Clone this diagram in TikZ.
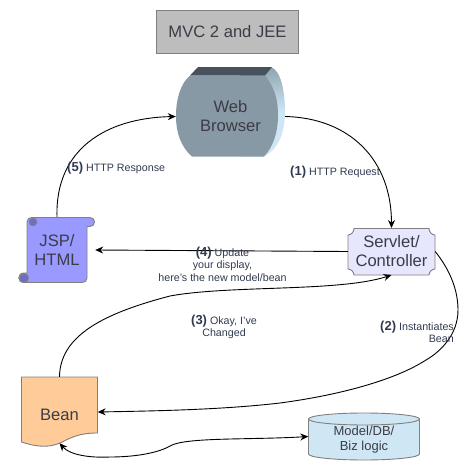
\documentclass[tikz,border=0pt]{standalone}
\usepackage{fontspec}
\setmainfont{Liberation Sans}
\usetikzlibrary{arrows.meta}
\definecolor{edgegray}{HTML}{808080}
\definecolor{txt}{HTML}{3C3C46}
\definecolor{lbl}{HTML}{303A50}
\definecolor{webtop}{HTML}{48525C}
\definecolor{webbody}{HTML}{8899A6}
\definecolor{webside}{HTML}{CFE7F5}
\definecolor{webedge}{HTML}{8FA3B0}
\definecolor{jspfill}{HTML}{9999FF}
\definecolor{jsproll}{HTML}{6E6EC8}
\definecolor{servfill}{HTML}{E6E6FF}
\definecolor{beanfill}{HTML}{FFCC99}
\definecolor{dbfill}{HTML}{CFE7F5}
\tikzset{
  shapeline/.style={draw=edgegray,line width=0.9pt},
  big/.style={font=\fontsize{16.6}{19}\selectfont,text=txt,align=center,inner sep=0pt,minimum width=#1},
  lab/.style={font=\fontsize{10.7}{12.6}\selectfont,text=lbl,align=center,inner sep=0pt},
  conn/.style={draw=black,line width=0.9pt,-{Stealth[length=8pt,width=7pt]}},
  connb/.style={draw=black,line width=0.9pt,{Stealth[length=8pt,width=7pt]}-{Stealth[length=8pt,width=7pt]}},
}
\newcommand{\stepno}[1]{{\fontsize{13}{13}\selectfont\bfseries (#1)}}
\begin{document}
\begin{tikzpicture}[x=1pt,y=-1pt]
\useasboundingbox (0,0) rectangle (461,466);
% title
\node[shapeline,fill=black!26,minimum width=142pt,minimum height=43pt,inner sep=0pt,font=\fontsize{16.6}{19}\selectfont,text=txt] (title) at (227.5,31.5) {MVC 2 and JEE};
% web browser
\path[top color=webedge,bottom color=webside,middle color=webside]
  (270,67) .. controls (281,69) and (285,92) .. (285,112) .. controls (285,135) and (277,150) .. (264,156.5) -- (240,156.5) -- (240,67) -- cycle;
\fill[webtop] (198,67) -- (272,67) -- (265,75.5) -- (190,75.5) -- cycle;
\fill[webbody] (190,75.5) -- (265,75.5) .. controls (275,88) and (278,100) .. (278,115)
  .. controls (278,133) and (273,147) .. (264,156.5) -- (192,156.5) .. controls (181,147) and (176,133) .. (176,116) .. controls (176,100) and (180,84) .. (190,75.5) -- cycle;
\node[big=109pt,minimum height=81pt] (web) at (230.5,116.5) {Web\\Browser};
% JSP scroll
\path[shapeline,fill=jspfill]
  (32,217.5) -- (90,217.5) .. controls (96,217.5) and (96,226.5) .. (90,226.5) -- (87,226.5) -- (87,278)
  .. controls (87,281) and (85,282.5) .. (82,282.5) -- (24,282.5) .. controls (17,282.5) and (17,273) .. (24,273) -- (27,273) -- (27,222)
  .. controls (27,219) and (29,217.5) .. (32,217.5) -- cycle;
\path[shapeline,fill=jsproll] (33,222) circle[radius=3.8pt];
\path[shapeline,fill=jsproll] (24,278) circle[radius=4.5pt];
\node[big=60pt,minimum height=66pt] (jsp) at (57,250) {JSP/\\HTML};
% servlet plaque
\path[shapeline,fill=servfill]
  (354,228.5) -- (429,228.5) .. controls (429,232) and (432,235) .. (435,235) -- (435,269)
  .. controls (432,269) and (429,272) .. (429,275) -- (354,275) .. controls (354,272) and (351,269) .. (348,269) -- (348,235) .. controls (351,235) and (354,232) .. (354,228.5) -- cycle;
\node[big=87pt,minimum height=46.5pt] (serv) at (391.5,251.5) {Servlet/\\Controller};
% bean
\path[shapeline,fill=beanfill]
  (21.5,377) -- (97.5,377) -- (97.5,433) .. controls (80,433) and (72,437) .. (60,443) .. controls (50,447) and (40,448) .. (21.5,442) -- cycle;
\node[big=76pt,minimum height=70pt] (bean) at (59.5,412) {\raisebox{-8pt}[0pt][0pt]{Bean}};
% database
\path[shapeline,fill=dbfill]
  (308.5,419) -- (308.5,454) arc[x radius=55.5pt,y radius=6pt,start angle=180,end angle=360] -- (419.5,419)
  arc[x radius=55.5pt,y radius=6pt,start angle=0,end angle=180] -- cycle;
\draw[shapeline] (308.5,419) arc[x radius=55.5pt,y radius=6pt,start angle=180,end angle=360];
\node[big=111pt,minimum height=47pt,font=\fontsize{13}{15}\selectfont] (db) at (364,436.5) {\raisebox{-6pt}[0pt][0pt]{\begin{tabular}{@{}c@{}}Model/DB/\\Biz logic\end{tabular}}};
% connectors
\draw[conn] (web.east) .. controls (350,118) and (391.5,160) .. (serv.north);
\draw[conn] (jsp.north) .. controls (55,150) and (105,118) .. (web.west);
\draw[conn] (serv.west) -- ([xshift=8pt]jsp.east);
\draw[conn] (bean.north) .. controls (60,335) and (105,313) .. (170,296) .. controls (230,285) and (340,292) .. (serv.south);
\draw[conn] (serv.east) .. controls (450,270) and (458,290) .. (458,310) .. controls (458,335) and (440,352) .. (426,360)
  .. controls (395,380) and (340,395) .. (280,403) .. controls (220,410) and (150,411) .. (bean.east);
\draw[connb] ([yshift=4pt]bean.south) .. controls (70,455) and (90,458) .. (110,457) .. controls (135,457) and (158,453) .. (170,446)
  .. controls (185,437) and (250,440) .. (db.west);
% labels
\node[lab,anchor=west] (l5) at (67,168) {\stepno{5} HTTP Response};
\node[lab,anchor=west] (l1) at (290,172) {\stepno{1} HTTP Request};
\node[lab] (l4) at (222.5,264) {\stepno{4} Update\\your display,\\here's the new model/bean};
\node[lab] (l3) at (224,327) {\stepno{3} Okay, I've\\Changed};
\node[lab,align=right,anchor=east] (l2) at (454,332) {\stepno{2} Instantiates\\Bean};
\end{tikzpicture}
\end{document}
